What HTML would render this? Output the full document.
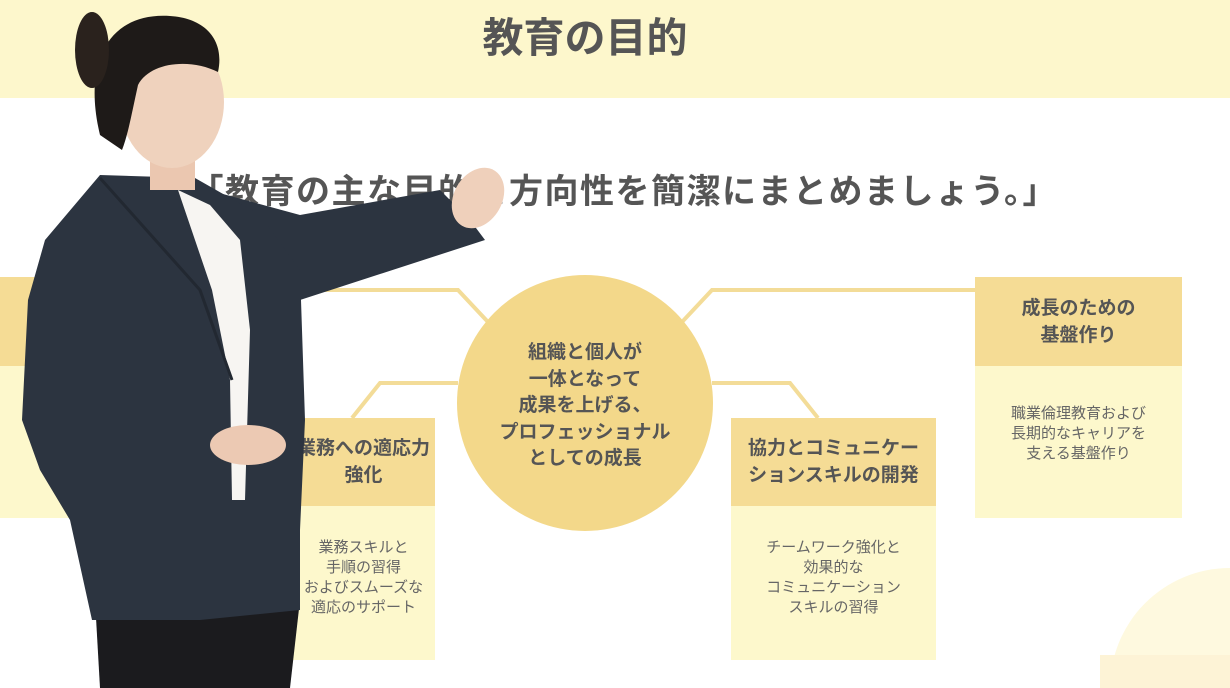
<!DOCTYPE html>
<html><head><meta charset="utf-8"><style>
html,body{margin:0;padding:0;overflow:hidden}
body{width:1230px;height:688px;position:relative;overflow:hidden;background:#fff;font-family:"Liberation Sans","Noto Sans CJK JP",sans-serif;color:#555}
.abs{position:absolute}
.hd{background:#f5dc95;display:flex;align-items:center;justify-content:center;text-align:center;font-weight:bold;font-size:19px;line-height:27px;color:#555}
.bd{background:#fdf8cc;text-align:center;font-size:15px;line-height:20px;color:#666}
</style></head><body>
<div class="abs" style="left:0;top:0;width:1230px;height:98px;background:#fdf7cc"></div>
<div class="abs" style="left:0;top:10px;width:1170px;text-align:center;font-size:41px;font-weight:bold;color:#555;line-height:56px">教育の目的</div>
<div class="abs" style="right:172px;top:164px;font-size:34px;font-weight:bold;color:#555;white-space:nowrap;letter-spacing:1.5px">「教育の主な目的と方向性を簡潔にまとめましょう。」</div>

<svg class="abs" style="left:0;top:0" width="1230" height="688">
<g fill="none" stroke="#f3dc98" stroke-width="4">
<polyline points="682,322 712,290 976,290"/>
<polyline points="712,383 790,383 818,418"/>
<polyline points="488,322 458,290 300,290"/>
<polyline points="458,383 380,383 352,418"/>
</g>
<circle cx="585" cy="403" r="128" fill="#f3d88a"/>
<circle cx="1230" cy="688" r="120" fill="#fef9df"/>
<rect x="1100" y="655" width="130" height="33" fill="#fdf3d6"/>
</svg>
<div class="abs" style="left:457px;top:340px;width:256px;text-align:center;font-size:19px;font-weight:bold;line-height:26.5px;color:#555">組織と個人が<br>一体となって<br>成果を上げる、<br>プロフェッショナル<br>としての成長</div>

<div class="abs hd" style="left:-10px;top:277px;width:270px;height:89px">会社理解</div>
<div class="abs bd" style="left:-10px;top:366px;width:270px;height:152px;padding-top:40px;box-sizing:border-box">ミッション・ビジョン<br>企業文化と<br>る価値観を<br>身につける</div>

<div class="abs hd" style="left:292px;top:418px;width:143px;height:88px">業務への適応力<br>強化</div>
<div class="abs bd" style="left:292px;top:506px;width:143px;height:154px;padding-top:32px;box-sizing:border-box">業務スキルと<br>手順の習得<br>およびスムーズな<br>適応のサポート</div>

<div class="abs hd" style="left:731px;top:418px;width:205px;height:88px">協力とコミュニケー<br>ションスキルの開発</div>
<div class="abs bd" style="left:731px;top:506px;width:205px;height:154px;padding-top:32px;box-sizing:border-box">チームワーク強化と<br>効果的な<br>コミュニケーション<br>スキルの習得</div>

<div class="abs hd" style="left:975px;top:277px;width:207px;height:89px">成長のための<br>基盤作り</div>
<div class="abs bd" style="left:975px;top:366px;width:207px;height:152px;padding-top:38px;box-sizing:border-box">職業倫理教育および<br>長期的なキャリアを<br>支える基盤作り</div>

<svg class="abs" style="left:0;top:0" width="1230" height="688">
<polygon points="95,600 300,600 290,688 100,688" fill="#1b1b1e"/>
<polygon points="190,185 300,215 440,190 470,220 485,240 300,300 230,290" fill="#2c3440"/>
<ellipse cx="478" cy="198" rx="24" ry="32" fill="#efd0bb" transform="rotate(30 478 198)"/>
<polygon points="100,175 195,178 260,215 300,270 305,420 300,530 300,610 200,620 92,620 70,520 40,470 22,420 28,300 45,240" fill="#2c3440"/>
<polygon points="178,190 210,205 240,240 250,330 245,500 232,500 230,380 212,290" fill="#f7f5f2"/>
<polyline points="100,178 200,290 232,380" fill="none" stroke="#222831" stroke-width="3"/>
<ellipse cx="248" cy="445" rx="38" ry="20" fill="#ecc9b3"/>
<rect x="150" y="140" width="45" height="50" fill="#ebc7b0"/>
<ellipse cx="172" cy="102" rx="52" ry="66" fill="#efd2bd"/>
<path d="M100,135 C82,60 110,12 170,16 C205,18 225,40 218,72 C190,58 150,62 138,85 C132,112 128,135 122,150 Z" fill="#1e1a18"/>
<ellipse cx="92" cy="50" rx="17" ry="38" fill="#2a221d"/>
</svg>
</body></html>
